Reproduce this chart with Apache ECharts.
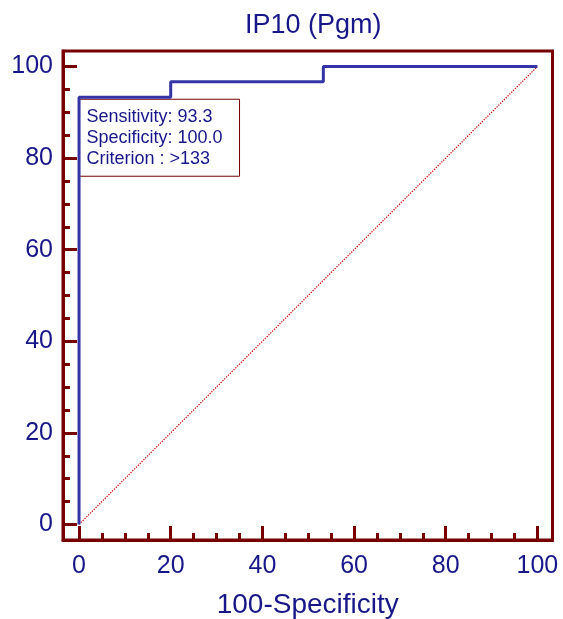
<!DOCTYPE html>
<html>
<head>
<meta charset="utf-8">
<script src="https://cdn.jsdelivr.net/npm/echarts@6/dist/echarts.min.js"></script>
<style>
html,body{margin:0;padding:0;background:#fff;}
#c{width:563px;height:619px;}
</style>
</head>
<body>
<div id="c"></div>
<script>
// ---- data ----
const titleText = 'IP10 (Pgm)';
const xName = '100-Specificity';
const rocX = [0, 0, 20, 20, 53.3, 53.3, 100];
const rocY = [0, 93.3, 93.3, 96.7, 96.7, 100, 100];
const diagX = [0, 100];
const diagY = [0, 100];
const majorTicks = [0, 20, 40, 60, 80, 100];
const minorTicks = [5, 10, 15, 25, 30, 35, 45, 50, 55, 65, 70, 75, 85, 90, 95];
const boxLines = ['Sensitivity: 93.3', 'Specificity: 100.0', 'Criterion : >133'];
const boxAnchor = [0, 93.3];

const navy = '#17178a';
const maroon = '#760000';
const font = 'Liberation Sans, Arial, sans-serif';

const chart = echarts.init(document.getElementById('c'), null, {renderer: 'canvas'});

const xRange = {min: -3.5, max: 103.3};
const yRange = {min: -3.4, max: 103.4};

function axisBase(range, extra) {
  return Object.assign({
    type: 'value', min: range.min, max: range.max,
    splitLine: {show: false}, minorTick: {show: false}
  }, extra);
}

const option = {
  animation: false,
  backgroundColor: '#fff',
  title: {
    text: titleText, left: 240, top: 7,
    textStyle: {color: navy, fontFamily: font, fontSize: 27, fontWeight: 'normal'}
  },
  grid: {
    left: 63, top: 51, width: 489.5, height: 489,
    outerBoundsMode: 'none', containLabel: false,
    show: true, borderColor: maroon, borderWidth: 3, backgroundColor: 'transparent'
  },
  xAxis: [
    axisBase(xRange, {
      position: 'bottom',
      name: xName, nameLocation: 'middle', nameGap: 51,
      nameTextStyle: {color: navy, fontFamily: font, fontSize: 28},
      axisLine: {show: true, onZero: false, lineStyle: {color: maroon, width: 3}},
      axisTick: {show: true, inside: true, length: 14, customValues: majorTicks, lineStyle: {color: maroon, width: 3}},
      axisLabel: {show: true, customValues: majorTicks, margin: 14, color: navy, fontFamily: font, fontSize: 25}
    }),
    axisBase(xRange, {
      position: 'bottom',
      axisLine: {show: false, onZero: false},
      axisTick: {show: true, inside: true, length: 7, customValues: minorTicks, lineStyle: {color: maroon, width: 3}},
      axisLabel: {show: false}
    })
  ],
  yAxis: [
    axisBase(yRange, {
      position: 'left',
      axisLine: {show: true, onZero: false, lineStyle: {color: maroon, width: 3}},
      axisTick: {show: true, inside: true, length: 14, customValues: majorTicks, lineStyle: {color: maroon, width: 3}},
      axisLabel: {show: true, customValues: majorTicks, margin: 10, color: navy, fontFamily: font, fontSize: 25}
    }),
    axisBase(yRange, {
      position: 'left',
      axisLine: {show: false, onZero: false},
      axisTick: {show: true, inside: true, length: 7, customValues: minorTicks, lineStyle: {color: maroon, width: 3}},
      axisLabel: {show: false}
    })
  ],
  series: [
    {
      type: 'line', xAxisIndex: 0, yAxisIndex: 0,
      data: diagX.map((v, i) => [v, diagY[i]]),
      symbol: 'none', silent: true,
      lineStyle: {color: '#c80000', width: 1.2, type: [1.3, 1.3]}
    },
    {
      type: 'line', xAxisIndex: 0, yAxisIndex: 0,
      data: rocX.map((v, i) => [v, rocY[i]]),
      symbol: 'none', silent: true,
      lineStyle: {color: '#3434a6', width: 3}
    }
  ]
};
chart.setOption(option);

// annotation box anchored at the criterion point
const p = chart.convertToPixel({xAxisIndex: 0, yAxisIndex: 0}, boxAnchor);
chart.setOption({
  graphic: [{
    type: 'group', left: p[0], top: p[1] + 1.5,
    children: [
      {type: 'rect', shape: {x: 0, y: 0, width: 160, height: 77},
       style: {fill: '#fff', stroke: maroon, lineWidth: 1}},
      {type: 'text', x: 7, y: 7,
       style: {text: boxLines.join('\n'), fill: navy, font: '18px ' + font, lineHeight: 21}}
    ]
  }]
});
</script>
</body>
</html>
